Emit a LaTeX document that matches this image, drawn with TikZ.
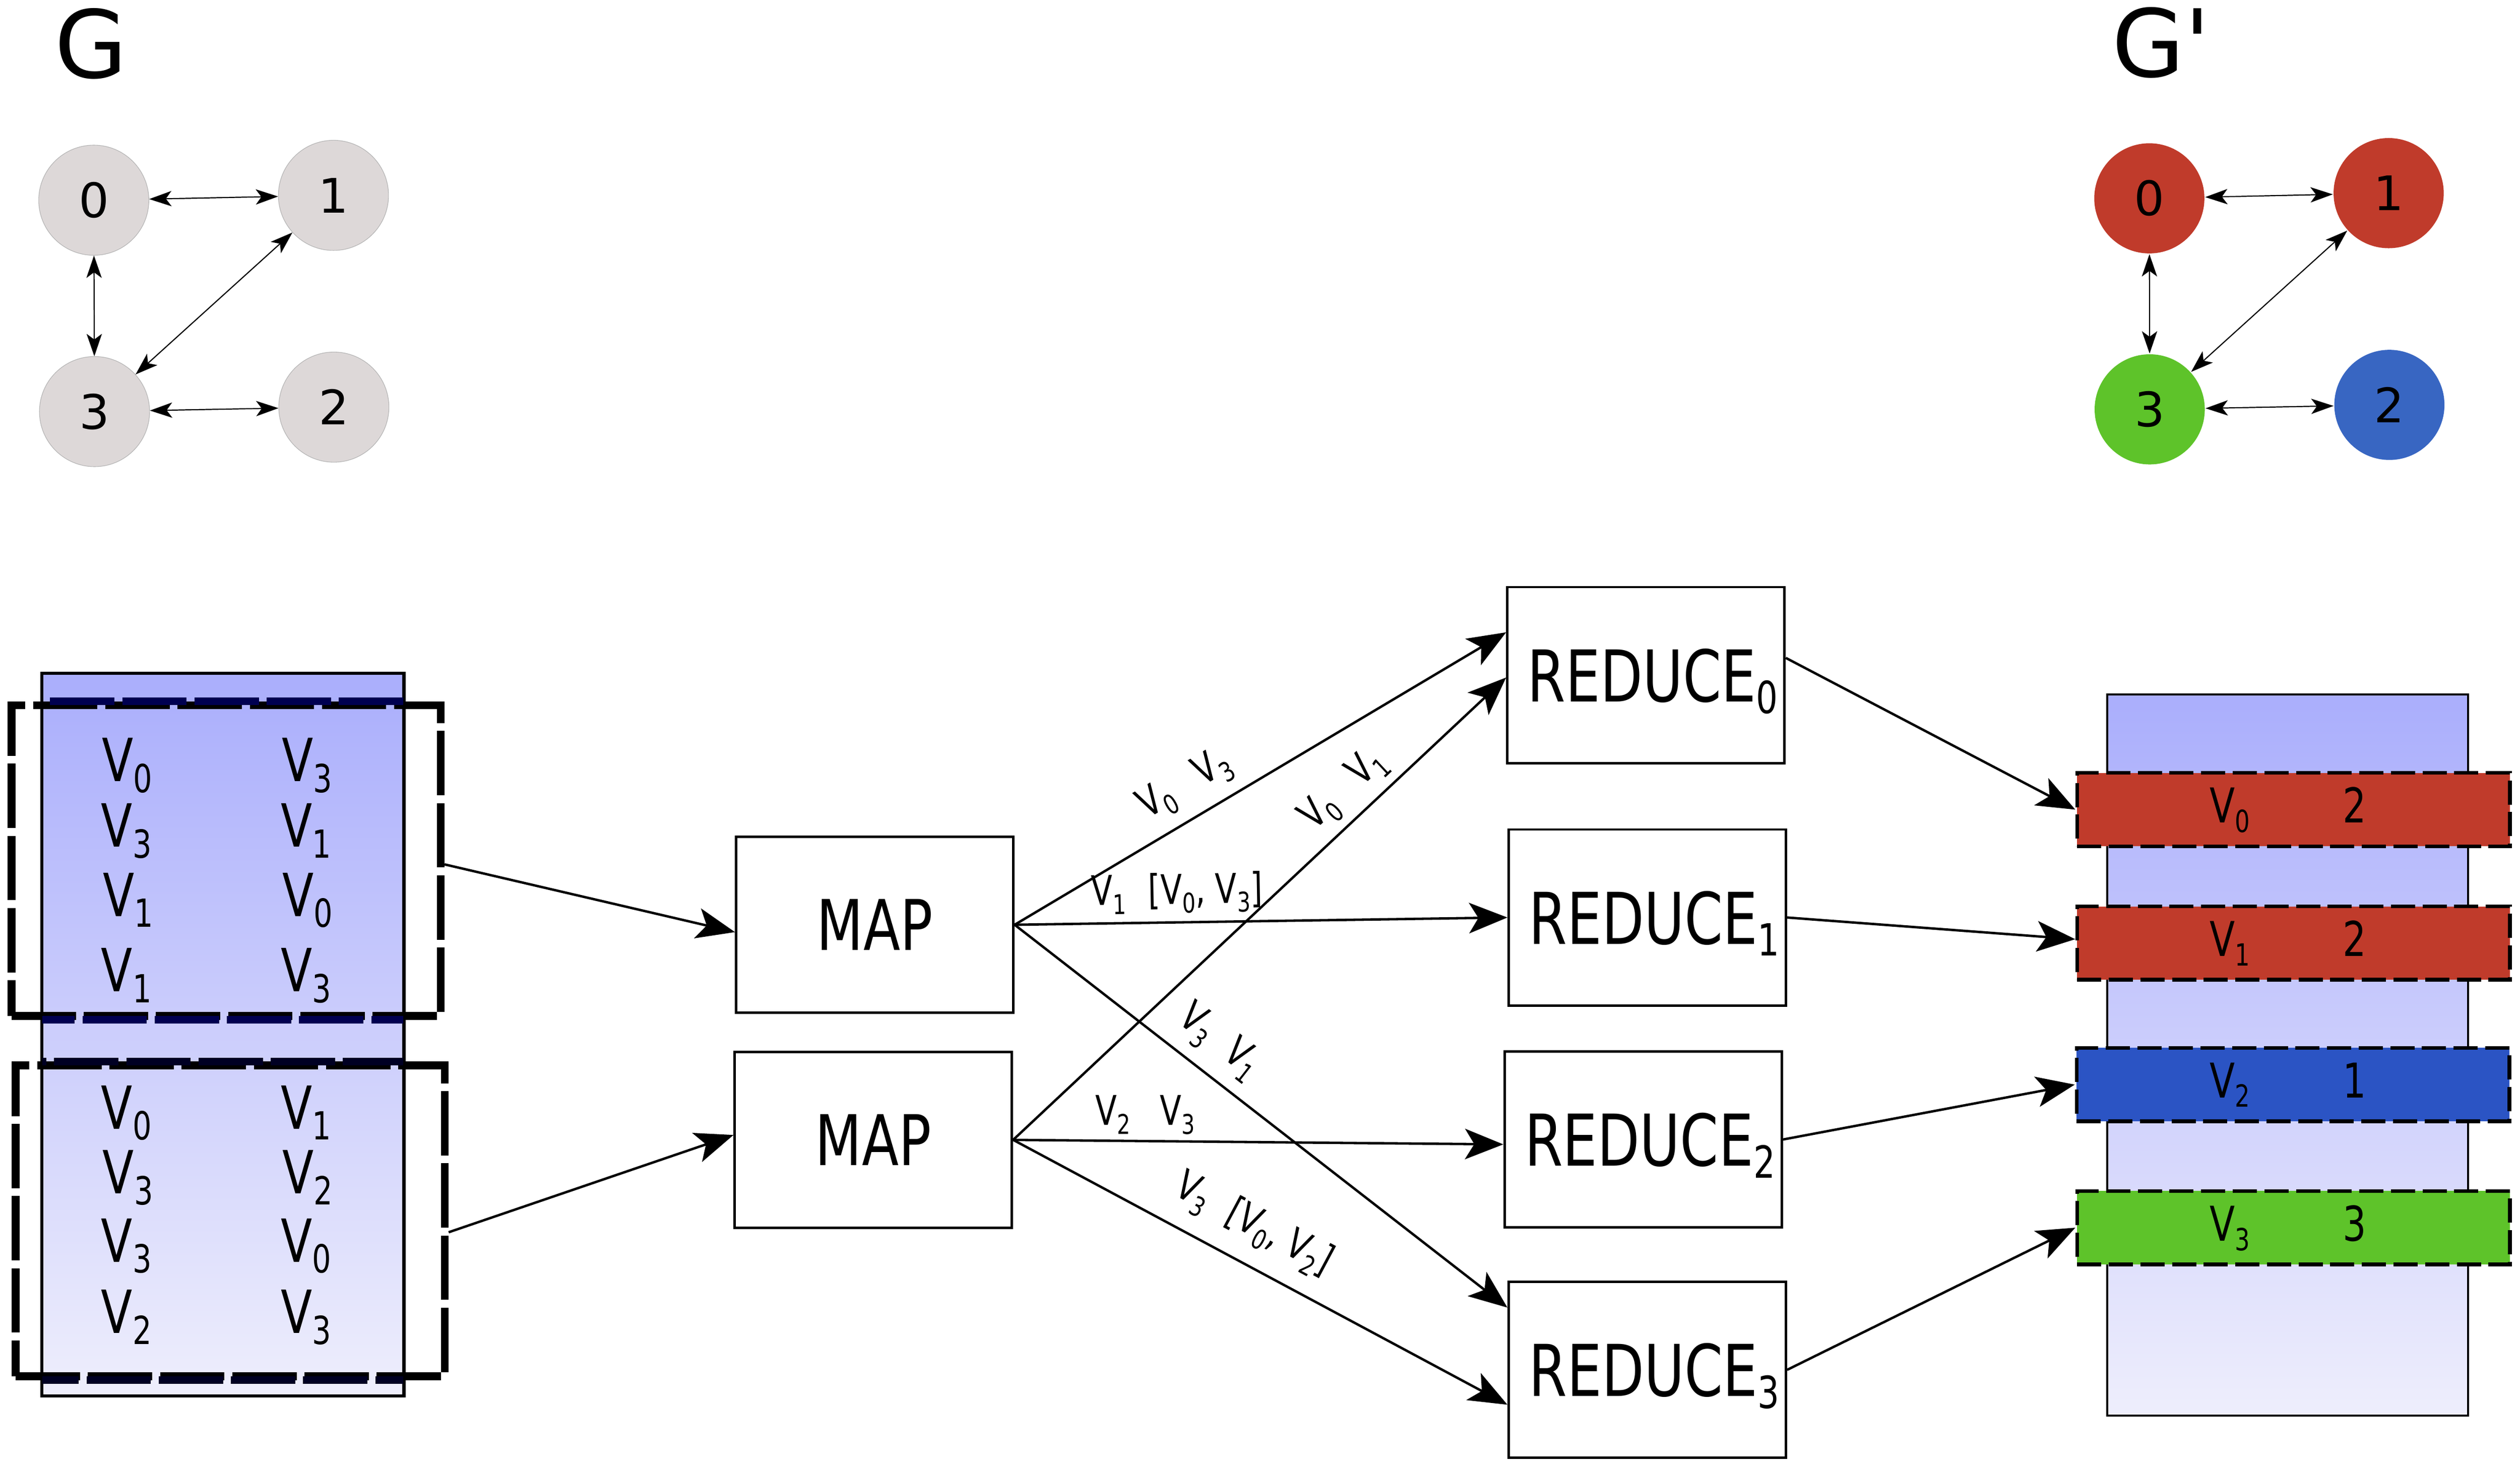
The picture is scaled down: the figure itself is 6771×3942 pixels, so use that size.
\documentclass[tikz,border=0pt]{standalone}
\usepackage{fontspec}
\setmainfont{DejaVu Sans}
\newfontfamily\cf[FakeStretch=0.77]{DejaVu Sans}
\usetikzlibrary{arrows.meta}
\definecolor{gnode}{RGB}{221,216,216}
\definecolor{rnode}{RGB}{192,59,43}
\definecolor{grnode}{RGB}{94,195,42}
\definecolor{bnode}{RGB}{56,102,194}
\definecolor{bbar}{RGB}{43,84,196}
\definecolor{coltop}{RGB}{170,174,252}
\definecolor{colbot}{RGB}{238,238,252}
\definecolor{navyA}{RGB}{0,0,80}
\definecolor{navyB}{RGB}{0,0,35}
\newcommand\mysub[3]{\raisebox{-#2}{\fontsize{#1}{#1}\selectfont #3}}
\newcommand\LV[1]{V\mysub{10.4pt}{2.9pt}{#1}}
\newcommand\BV[1]{V\mysub{8.2pt}{2.5pt}{#1}}
\newcommand\RV[1]{REDUCE\mysub{11.9pt}{3.2pt}{#1}}
\newcommand\EV[1]{V\mysub{7.3pt}{2.5pt}{#1}}
\newcommand\fLeft{\cf\fontsize{16pt}{16pt}\selectfont}
\newcommand\fBar{\cf\fontsize{12.9pt}{12.9pt}\selectfont}
\newcommand\fRed{\cf\fontsize{19.2pt}{19.2pt}\selectfont}
\newcommand\fMap{\cf\fontsize{18.8pt}{18.8pt}\selectfont}
\begin{document}
\begin{tikzpicture}[x=0.1pt,y=-0.1pt,
  gnodeS/.style={circle, minimum size=29.6pt, inner sep=0pt, font=\fontsize{12.8pt}{12.8pt}\selectfont},
  gedge/.style={{Stealth[length=6pt,width=4.1pt,inset=1.5pt]}-{Stealth[length=6pt,width=4.1pt,inset=1.5pt]}, line width=0.3pt},
  procbox/.style={draw, line width=0.65pt, minimum width=74.5pt, minimum height=47.3pt, inner sep=0pt, text depth=0pt},
  flow/.style={-{Stealth[length=10.3pt,width=8.2pt,inset=2.5pt]}, line width=0.65pt},
  inbox/.style={draw, line width=2.1pt, dash pattern=on 17.3pt off 2.1pt, minimum width=115.3pt, minimum height=83.5pt, inner sep=0pt},
  bar/.style={draw, line width=1pt, dash pattern=on 6.5pt off 2pt, minimum width=116.3pt, minimum height=19.7pt, inner sep=0pt},
  col/.style={draw, line width=0.55pt, top color=coltop, bottom color=colbot, minimum width=97pt, minimum height=193.9pt, inner sep=0pt},
  elab/.style={font=\cf\fontsize{11pt}{11pt}\selectfont, inner sep=0pt},
  txt/.style={inner sep=0pt}]
\useasboundingbox (0,0) rectangle (6771,3942);

% ---------- graph G ----------
\node[txt, anchor=base, font=\fontsize{25.2pt}{25.2pt}\selectfont] (gname) at (244,209) {G};
\node[gnodeS, fill=gnode, draw=gray!60, line width=0.15pt] (a0) at (252,538) {0};
\node[gnodeS, fill=gnode, draw=gray!60, line width=0.15pt] (a1) at (896,525) {1};
\node[gnodeS, fill=gnode, draw=gray!60, line width=0.15pt] (a3) at (254,1106) {3};
\node[gnodeS, fill=gnode, draw=gray!60, line width=0.15pt] (a2) at (897,1094) {2};
\draw[gedge] (a0) -- (a1);
\draw[gedge] (a0) -- (a3);
\draw[gedge] (a3) -- (a1);
\draw[gedge] (a3) -- (a2);

% ---------- graph G' ----------
\node[txt, anchor=base west, font=\fontsize{25.2pt}{25.2pt}\selectfont] (gpname) at (5673,206) {G\textquotesingle};
\node[gnodeS, fill=rnode] (c0) at (5775,533) {0};
\node[gnodeS, fill=rnode] (c1) at (6418,519) {1};
\node[gnodeS, fill=grnode] (c3) at (5776,1100) {3};
\node[gnodeS, fill=bnode] (c2) at (6420,1088) {2};
\draw[gedge] (c0) -- (c1);
\draw[gedge] (c0) -- (c3);
\draw[gedge] (c3) -- (c1);
\draw[gedge] (c3) -- (c2);

% ---------- left input column ----------
\node[col] (lcol) at (599,2780.5) {};
\node[inbox] (box1) at (607.5,2312.5) {};
\node[inbox] (box2) at (618.5,3280.5) {};
\begin{scope}
  \clip (lcol.north west) rectangle (lcol.south east);
  \draw[navyA, line width=2.1pt, dash pattern=on 17.3pt off 2.1pt] (box1.south west) rectangle (box1.north east);
  \draw[navyB, line width=2.1pt, dash pattern=on 17.3pt off 2.1pt] (box2.south west) rectangle (box2.north east);
\end{scope}
\draw[line width=0.55pt] (lcol.north west) rectangle (lcol.south east);

\node[txt, anchor=base west, font=\fLeft] (l11) at (272,2100) {\LV{0}};
\node[txt, anchor=base west, font=\fLeft] (l12) at (755,2100) {\LV{3}};
\node[txt, anchor=base west, font=\fLeft] (l21) at (270,2276) {\LV{3}};
\node[txt, anchor=base west, font=\fLeft] (l22) at (753,2276) {\LV{1}};
\node[txt, anchor=base west, font=\fLeft] (l31) at (275,2462) {\LV{1}};
\node[txt, anchor=base west, font=\fLeft] (l32) at (757,2462) {\LV{0}};
\node[txt, anchor=base west, font=\fLeft] (l41) at (270,2665) {\LV{1}};
\node[txt, anchor=base west, font=\fLeft] (l42) at (753,2665) {\LV{3}};
\node[txt, anchor=base west, font=\fLeft] (m11) at (270,3034) {\LV{0}};
\node[txt, anchor=base west, font=\fLeft] (m12) at (753,3034) {\LV{1}};
\node[txt, anchor=base west, font=\fLeft] (m21) at (274,3208) {\LV{3}};
\node[txt, anchor=base west, font=\fLeft] (m22) at (757,3208) {\LV{2}};
\node[txt, anchor=base west, font=\fLeft] (m31) at (270,3391) {\LV{3}};
\node[txt, anchor=base west, font=\fLeft] (m32) at (753,3391) {\LV{0}};
\node[txt, anchor=base west, font=\fLeft] (m41) at (270,3583) {\LV{2}};
\node[txt, anchor=base west, font=\fLeft] (m42) at (753,3583) {\LV{3}};

% ---------- MAP and REDUCE ----------
\node[procbox, font=\fMap] (map1) at (2350.5,2485) {MAP\hspace{6pt}};
\node[procbox, font=\fMap] (map2) at (2346.5,3063) {MAP\hspace{6pt}};
\node[procbox, font=\fRed] (r0) at (4422.5,1814) {\hspace{3.6pt}\RV{0}};
\node[procbox, font=\fRed] (r1) at (4426,2465.5) {\hspace{3.6pt}\RV{1}};
\node[procbox, font=\fRed] (r2) at (4415,3062) {\hspace{3.6pt}\RV{2}};
\node[procbox, font=\fRed] (r3) at (4426,3681) {\hspace{3.6pt}\RV{3}};

% ---------- right output column ----------
\node[col] (rcol) at (6147,2835) {};
\node[bar, fill=rnode] (b0) at (6162.5,2175.5) {};
\node[bar, fill=rnode] (b1) at (6162.5,2534) {};
\node[bar, fill=bbar] (b2) at (6161,2914.5) {};
\node[bar, fill=grnode] (b3) at (6162.5,3299) {};
\node[txt, anchor=base west, font=\fBar] (v0) at (5935,2211) {\BV{0}};
\node[txt, anchor=base, font=\fBar] (n0) at (6327,2211) {2};
\node[txt, anchor=base west, font=\fBar] (v1) at (5935,2570) {\BV{1}};
\node[txt, anchor=base, font=\fBar] (n1) at (6327,2570) {2};
\node[txt, anchor=base west, font=\fBar] (v2) at (5935,2950) {\BV{2}};
\node[txt, anchor=base, font=\fBar] (n2) at (6327,2950) {1};
\node[txt, anchor=base west, font=\fBar] (v3) at (5935,3335) {\BV{3}};
\node[txt, anchor=base, font=\fBar] (n3) at (6327,3335) {3};

% ---------- connectors ----------
\draw[flow] (box1.-1.6) -- (map1.183);
\draw[flow] (box2.-3.7) -- (map2.178);
\draw[flow] (map1.east) -- (r0.163);
\draw[flow] (map1.east) -- (r1.west);
\draw[flow] (map1.east) -- (r3.156);
\draw[flow] (map2.east) -- (r0.181);
\draw[flow] (map2.east) -- (r2.182);
\draw[flow] (map2.east) -- (r3.194);
\draw[flow] (r0.7) -- (b0.west);
\draw[flow] (r1.east) -- (b1.179);
\draw[flow] (r2.east) -- (b2.west);
\draw[flow] (r3.east) -- (b3.west);

% ---------- edge labels ----------
\node[elab, rotate=30.6] (la) at (3184,2110) {\EV{0}\hspace{8pt}\EV{3}};
\node[elab, rotate=43] (lb) at (3611,2123) {\EV{0}\hspace{8pt}\EV{1}};
\node[elab, rotate=1] (lc) at (3162,2400) {\EV{1}\hspace{6pt}[\EV{0}, \EV{3}]};
\node[elab, rotate=-37.9] (ld) at (3275,2800) {\EV{3}\hspace{6pt}\EV{1}};
\node[elab] (le) at (3077,2996) {\EV{2}\hspace{8pt}\EV{3}};
\node[elab, rotate=-28.1] (lf) at (3368,3292) {\EV{3}\hspace{6pt}[\EV{0}, \EV{2}]};
\end{tikzpicture}
\end{document}
